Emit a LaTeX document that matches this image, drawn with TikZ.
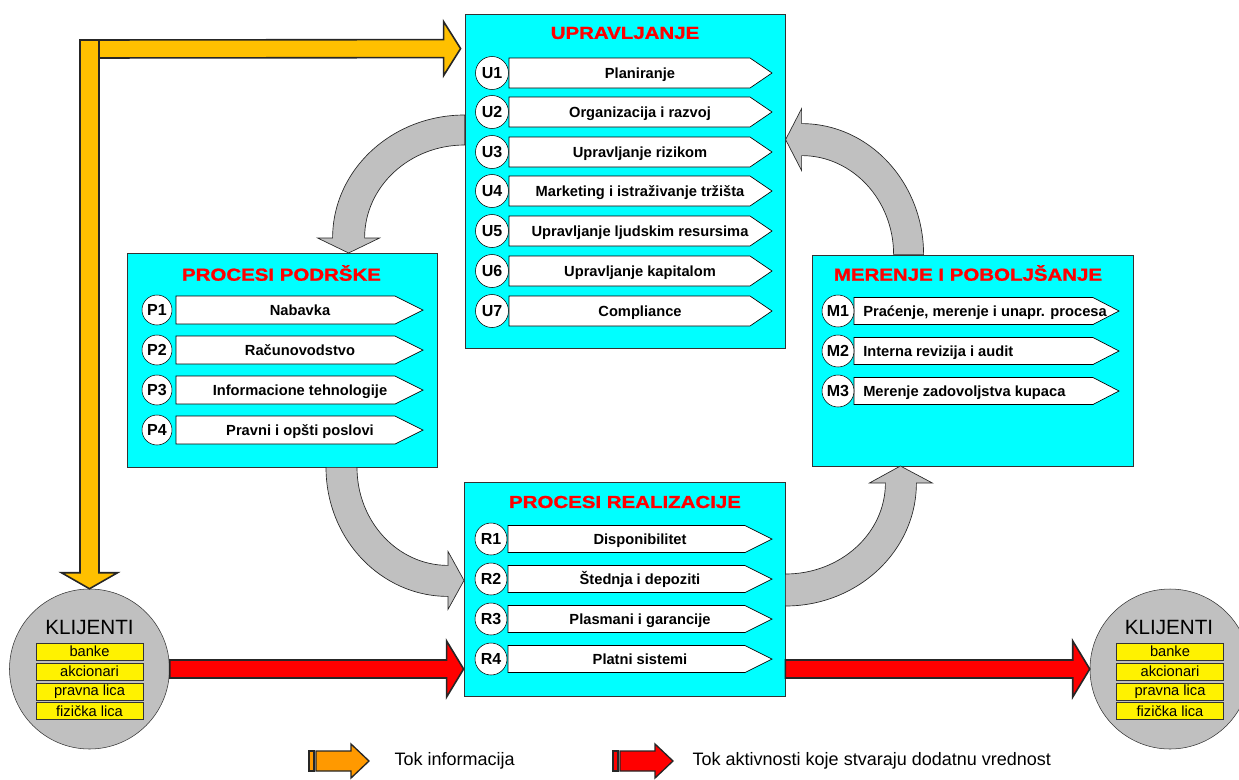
\documentclass[tikz,border=0pt]{standalone}
\usepackage{fontspec}
\setmainfont{Liberation Sans}
\newfontfamily\naslovfont[FakeStretch=1.18, FakeBold=1.2]{Liberation Sans}
\usepackage{tikz}
\usetikzlibrary{calc}

\definecolor{cijan}{HTML}{00FFFF}
\definecolor{sivaboja}{HTML}{C0C0C0}
\definecolor{narandz}{HTML}{FFC000}
\definecolor{narandzleg}{HTML}{FF9900}

\begin{document}
\begin{tikzpicture}[x=0.75pt, y=0.75pt, yscale=-1]
  \tikzset{blok/.style = {draw=black!80, fill=cijan, line width=0.6pt, inner sep=0pt}}
  \tikzset{naslov/.style = {text=red, font=\naslovfont\bfseries\fontsize{13}{15}\selectfont}}
  \tikzset{pent/.style = {draw=black, fill=white, line width=0.5pt}}
  \tikzset{stavka/.style = {inner sep=0pt, anchor=base, font=\fontsize{11}{13}\selectfont\bfseries}}
  \tikzset{oznaka/.style = {shape=circle, draw, fill=white, minimum size=24pt, inner sep=0pt, font=\fontsize{12}{14}\selectfont\bfseries}}
  \tikzset{klijent/.style = {shape=circle, draw=black!80, fill=sivaboja, minimum size=120pt, inner sep=0pt}}
  \tikzset{zuto/.style = {draw=black!80, fill=yellow, minimum width=80pt, minimum height=12.75pt, inner sep=0pt, font=\fontsize{11}{12}\selectfont}}
  \tikzset{siva/.style = {draw=black!85, fill=sivaboja, line width=0.5pt}}
  \tikzset{crvena/.style = {draw=black!85, fill=red, line width=1.2pt}}
  \tikzset{narandzasta/.style = {draw=black!85, fill=narandz, line width=1.2pt}}

  \useasboundingbox (0,0) rectangle (1239,779);
  \clip (0,0) rectangle (1239,779);

  % blokovi
  \node[blok, minimum width=240pt, minimum height=250.5pt] (upr) at (625,181) {};
  \node[blok, minimum width=232.5pt, minimum height=160.5pt] (podr) at (282,360) {};
  \node[blok, minimum width=240.75pt, minimum height=158.25pt] (mer) at (972.5,360.5) {};
  \node[blok, minimum width=240.75pt, minimum height=160.5pt] (ralz) at (624.5,589) {};

  \node[naslov] (nUpr) at (625,33) {UPRAVLJANJE};
  \node[naslov] (nPodr) at (281.5,273) {PROCESI PODRŠKE};
  \node[naslov] (nMer) at (968,273) {MERENJE I POBOLJŠANJE};
  \node[naslov] (nRalz) at (625,502) {PROCESI REALIZACIJE};

  % upravljanje
  \foreach \i/\yy/\tekst in {1/73/Planiranje, 2/112/Organizacija i razvoj, 3/152/Upravljanje rizikom, 4/191/Marketing i istraživanje tržišta, 5/231/Upravljanje ljudskim resursima, 6/271/Upravljanje kapitalom, 7/311/Compliance}{
    \draw[pent] (509,\yy-15) -- (750,\yy-15) -- (772,\yy) -- (750,\yy+15) -- (509,\yy+15) -- cycle;
    \node[stavka] (u\i) at (640,\yy+5) {\tekst};
    \node[oznaka, minimum size=24.75pt] (cu\i) at (492,\yy) {U\i};
  }

  % procesi podrske
  \foreach \i/\yy/\tekst in {1/310/Nabavka, 2/350/Računovodstvo, 3/390/Informacione tehnologije, 4/430/Pravni i opšti poslovi}{
    \draw[pent] (176,\yy-14) -- (395,\yy-14) -- (423,\yy) -- (395,\yy+14) -- (176,\yy+14) -- cycle;
    \node[stavka] (p\i) at (300,\yy+5) {\tekst};
    \node[oznaka, minimum size=22.5pt] (cp\i) at (157,\yy) {P\i};
  }

  % merenje
  \foreach \i/\yy/\tekst in {1/311/{Praćenje, merenje i unapr. procesa}, 2/351/Interna revizija i audit, 3/391/Merenje zadovoljstva kupaca}{
    \draw[pent] (854,\yy-13.5) -- (1093,\yy-13.5) -- (1119,\yy) -- (1093,\yy+13.5) -- (854,\yy+13.5) -- cycle;
    \node[stavka, anchor=base west] (m\i) at (863,\yy+5) {\tekst};
    \node[oznaka] (cm\i) at (838,\yy) {M\i};
  }

  % realizacija
  \foreach \i/\yy/\tekst in {1/539/Disponibilitet, 2/579/Štednja i depoziti, 3/619/Plasmani i garancije, 4/659/Platni sistemi}{
    \draw[pent] (508,\yy-13.5) -- (745,\yy-13.5) -- (772,\yy) -- (745,\yy+13.5) -- (508,\yy+13.5) -- cycle;
    \node[stavka] (r\i) at (640,\yy+5) {\tekst};
    \node[oznaka] (cr\i) at (491,\yy) {R\i};
  }

  % sive strelice
  \draw[siva] ($(upr.west)+(0,-66)$) arc[start angle=270, end angle=180, x radius=132, y radius=123]
    -- ++(-15,0) -- ++(31,15) -- ++(31,-15) -- ++(-15,0)
    arc[start angle=180, end angle=270, x radius=100, y radius=93] -- cycle;
  \draw[siva] ($(podr.south)+(44,0)$) arc[start angle=180, end angle=90, x radius=122, y radius=129]
    -- ++(0,13) -- ++(16,-29) -- ++(-16,-29) -- ++(0,14)
    arc[start angle=90, end angle=180, x radius=91, y radius=98] -- cycle;
  \draw[siva] ($(ralz.east)+(0,17)$) arc[start angle=90, end angle=0, x radius=131, y radius=123]
    -- ++(16,0) -- ++(-32,-17) -- ++(-31,17) -- ++(16,0)
    arc[start angle=0, end angle=90, x radius=100, y radius=91] -- cycle;
  \draw[siva] ($(mer.north west)+(112,0)$) arc[start angle=0, end angle=-90, x radius=122, y radius=131]
    -- ++(0,-15) -- ++(-16,31) -- ++(16,31) -- ++(0,-15)
    arc[start angle=-90, end angle=0, x radius=92, y radius=99] -- cycle;

  % klijenti
  \node[klijent] (kl) at (89.5,669) {};
  \node[klijent] (kd) at (1170,669) {};
  \node[font=\fontsize{15.5}{17}\selectfont] (klT) at (89.5,627) {KLIJENTI};
  \node[font=\fontsize{15.5}{17}\selectfont] (kdT) at (1169,627) {KLIJENTI};
  \foreach \k/\xx in {l/89.5, d/1170}{
    \node[zuto] (\k1) at (\xx,651.5) {banke};
    \node[zuto] (\k2) at (\xx,671.5) {akcionari};
    \node[zuto] (\k3) at (\xx,691.5) {pravna lica};
    \node[zuto] (\k4) at (\xx,711) {fizička lica};
  }

  % narandzaste strelice
  \coordinate (ugao) at (89.5,49);
  \coordinate (oTip) at ($(upr.north west)+(-4,35)$);
  \draw[narandzasta] ($(ugao)+(-9.5,-9)$) -- ($(oTip)+(-17,-9)$) -- ($(oTip)+(-17,-27)$) -- (oTip)
    -- ($(oTip)+(-17,27)$) -- ($(oTip)+(-17,9)$) -- ($(ugao)+(-9.5,9)$) -- cycle;
  \draw[narandzasta] ($(ugao)+(-9.5,-9)$) -- ($(kl.north)+(-9.5,-16)$) -- ($(kl.north)+(-28,-16)$) -- (kl.north)
    -- ($(kl.north)+(28,-16)$) -- ($(kl.north)+(9.5,-16)$) -- ($(ugao)+(9.5,-9)$) -- cycle;

  % crvene strelice
  \coordinate (rB) at (kl.east -| ralz.west);
  \draw[crvena] ($(kl.east)+(0,-9)$) -- ($(rB)+(-17,-9)$) -- ($(rB)+(-17,-28)$) -- (rB)
    -- ($(rB)+(-17,28)$) -- ($(rB)+(-17,9)$) -- ($(kl.east)+(0,9)$) -- cycle;
  \coordinate (rC) at (kd.west -| ralz.east);
  \draw[crvena] ($(rC)+(0,-9)$) -- ($(kd.west)+(-17,-9)$) -- ($(kd.west)+(-17,-28)$) -- (kd.west)
    -- ($(kd.west)+(-17,28)$) -- ($(kd.west)+(-17,9)$) -- ($(rC)+(0,9)$) -- cycle;

  % legenda
  \node[anchor=west, font=\fontsize{13.5}{15}\selectfont] (lgInfo) at (390,761) {Tok informacija};
  \node[anchor=west, font=\fontsize{13.5}{15}\selectfont] (lgAkt) at (688,761) {Tok aktivnosti koje stvaraju dodatnu vrednost};
  \coordinate (lA) at ($(lgInfo.west)+(-21,0)$);
  \coordinate (lB) at ($(lgAkt.west)+(-15,0)$);
  \foreach \t/\boja in {lA/narandzleg, lB/red}{
    \draw[draw=black!85, fill=\boja, line width=1pt] ($(\t)+(-60,-10)$) rectangle ($(\t)+(-55,10)$);
    \draw[draw=black!85, fill=\boja, line width=1pt] ($(\t)+(-53,-10)$) -- ($(\t)+(-18,-10)$) -- ($(\t)+(-18,-17)$) -- (\t)
      -- ($(\t)+(-18,17)$) -- ($(\t)+(-18,10)$) -- ($(\t)+(-53,10)$) -- cycle;
  }
\end{tikzpicture}
\end{document}
